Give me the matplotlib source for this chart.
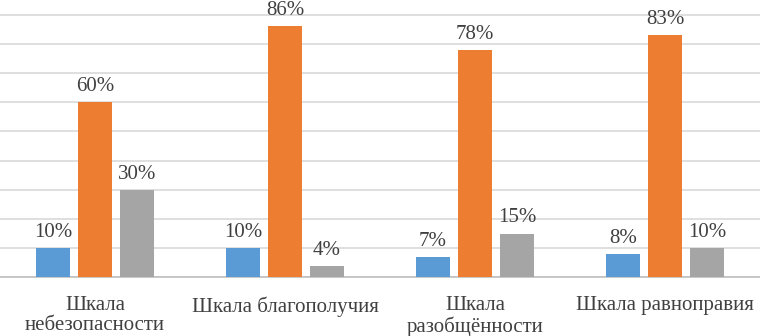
import numpy as np
import matplotlib.pyplot as plt

# categories and the three series (percent)
categories = ['Шкала\nнебезопасности', 'Шкала благополучия',
              'Шкала\nразобщённости', 'Шкала равноправия']
series_blue = [10, 10, 7, 8]
series_orange = [60, 86, 78, 83]
series_gray = [30, 4, 15, 10]

colors = ['#5b9bd5', '#ed7d31', '#a5a5a5']

plt.rcParams['font.family'] = ['Liberation Serif', 'DejaVu Serif']

fig = plt.figure(figsize=(7.6, 3.36), dpi=100)
ax = fig.add_axes([0, 0.1747, 1, 1 - 0.1747])

x = np.arange(len(categories))
width = 0.174
step = 0.221

for i, (vals, c) in enumerate(zip([series_blue, series_orange, series_gray], colors)):
    pos = x + (i - 1) * step
    ax.bar(pos, vals, width=width, color=c, zorder=3)
    for px, v in zip(pos, vals):
        ax.annotate(f'{v}%', (px, v), xytext=(0, 8), textcoords='offset points',
                    ha='center', va='baseline', fontsize=15, color='#404040',
                    annotation_clip=False)

ax.set_xlim(-0.5, 3.5)
ax.set_ylim(0, 95)
ax.set_yticks(np.arange(0, 91, 10))
ax.yaxis.grid(True, color='#d9d9d9', linewidth=1.2, zorder=0)
ax.tick_params(axis='y', left=False, labelleft=False)
ax.tick_params(axis='x', bottom=False, pad=10, labelsize=15, labelcolor='#404040')
ax.set_xticks(x)
ax.set_xticklabels(categories, linespacing=1.1)

for s in ['top', 'left', 'right']:
    ax.spines[s].set_visible(False)
ax.spines['bottom'].set_color('#bfbfbf')
ax.spines['bottom'].set_linewidth(1.2)

plt.savefig('out.png', dpi=100)
